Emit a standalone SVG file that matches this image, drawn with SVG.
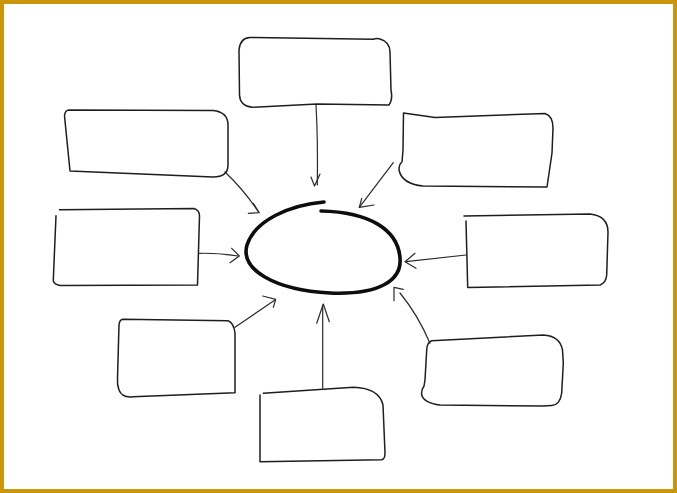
<svg xmlns="http://www.w3.org/2000/svg" width="677" height="493" viewBox="0 0 677 493">
<style>
.box{fill:none;stroke:#1e1e1e;stroke-width:1.5;stroke-linejoin:round;stroke-linecap:round}
.con{fill:none;stroke:#2a2a2a;stroke-width:1.2;stroke-linecap:round;stroke-linejoin:round}
.hub{fill:none;stroke:#0d0d0d;stroke-width:3.6;stroke-linecap:round}
</style>
<rect x="0" y="0" width="677" height="493" fill="#ffffff"/>
<rect x="2" y="2" width="673" height="489" fill="none" stroke="#C9960C" stroke-width="4"/>
<g id="center">
<path class="hub" d="M324,202 C290,205 255,220 247,245 C240,270 275,290 330,293 C380,295 402,280 400,258 C398,230 370,212 321,211"/>
</g>
<g id="node-top">
<path class="box" d="M250,37.5 L373,39.3 Q377,38 380,39 Q390,42 390,52 L391,90 Q393,100 389,105 L317,104 L252,107.3 Q240,106 239.5,95 L239,50 Q240,38 250,37.5 Z"/>
</g>
<g id="node-top-left">
<path class="box" d="M69,110 L213,110.5 Q228,112 228,125 L228,165 Q228,177 213,177 L70,171 L64.5,116 Q65,110 69,110 Z"/>
</g>
<g id="node-top-right">
<path class="box" d="M403.5,113 L435,117.5 L545,113.5 Q553,116 553,128 L552,153 L547,187 L423,186 Q402,184 399,170 Q399,164 402,162 L403,150 L403.5,113 Z"/>
</g>
<g id="node-left">
<path class="box" d="M59.5,209.7 L194,208.5 Q199.5,210 199.5,216 L197.5,285 L60,285.5 Q53,284 53.3,280 L56,215.7"/>
</g>
<g id="node-right">
<path class="box" d="M464,216 L590,214 Q608,216 608,232 L606.7,275 Q606,283 600,285 L467.7,287.5 L466,221"/>
</g>
<g id="node-bottom-left">
<path class="box" d="M123,319.3 L228,320.7 Q234,323 235,333 L235,392.7 L133,396.7 Q122,398 119,390 Q117,385 117.5,378 L119,325 Q119.5,319.5 123,319.3 Z"/>
</g>
<g id="node-bottom">
<path class="box" d="M263.3,393.3 L353.3,387.3 Q379,388 383,405 L385,453 Q385,459.5 381.5,459.8 L260,461.7 L260,395"/>
</g>
<g id="node-bottom-right">
<path class="box" d="M431.7,340.7 L543.3,335 Q560,336 562.5,350 L563.3,363 L561.7,393 Q560,405 551.7,405.5 L543.3,406 L440,405 Q424,403 421.7,395 Q421,390 424,386 L425,380 L426.7,350 Q427,342 431.7,340.7 Z"/>
</g>
<g id="connectors">
<path class="con" d="M316,104.7 Q318,140 317.3,185"/>
<path class="con" d="M311,177 L314.5,186 L320,174"/>
<path class="con" d="M225,172 Q244,190 258.5,212"/>
<path class="con" d="M253.3,203.3 L259.3,212.7 L248.3,213.3"/>
<path class="con" d="M393.3,162.7 L359.3,207.3"/>
<path class="con" d="M361.7,198.3 L359.3,207.3 L374,205"/>
<path class="con" d="M199.5,253.3 Q220,253 238,256"/>
<path class="con" d="M231.7,248.3 L239.3,256 L230,262.7"/>
<path class="con" d="M466,255 L406,261.7"/>
<path class="con" d="M415,253.3 L405,261.7 L416,268.3"/>
<path class="con" d="M235,327.3 L275,300"/>
<path class="con" d="M262.7,296 L275.7,299.3 L273.3,307.3"/>
<path class="con" d="M322.7,388.3 L322.7,305"/>
<path class="con" d="M316.7,323.3 L323.3,304 L329.3,321.7"/>
<path class="con" d="M430,343.3 Q418,315 400,293"/>
<path class="con" d="M394,300.7 L394,287.3 L403.3,289.3"/>
</g>
</svg>
